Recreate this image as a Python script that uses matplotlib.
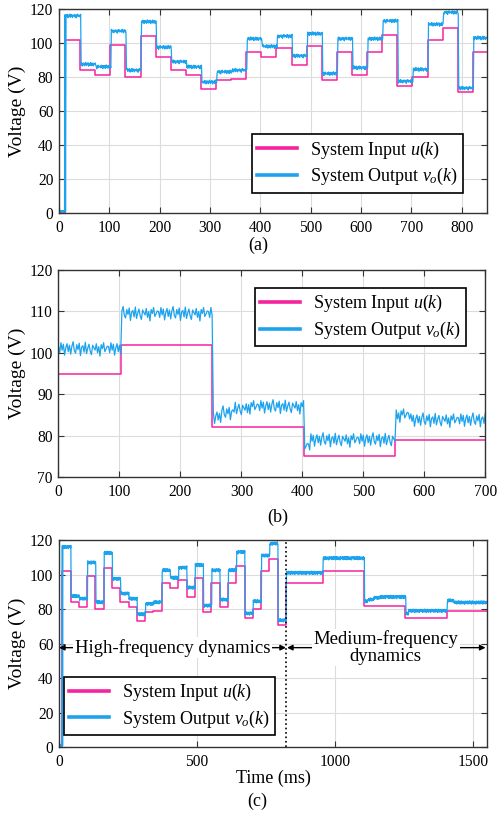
import numpy as np
import matplotlib
matplotlib.use('Agg')
from matplotlib import pyplot as plt

# high-frequency test (panel a, first part of panel c): step times and levels
HF_T = [0, 12, 42, 72, 102, 132, 162, 192, 222, 252, 282, 312, 342, 372, 402,
        432, 462, 492, 522, 552, 582, 612, 642, 672, 702, 732, 762, 792, 822]
HF_U = [0, 102, 84, 81, 99, 80, 104, 92, 84, 81, 73, 78, 79, 95, 92,
        97, 87, 98, 78, 95, 81, 95, 105, 75, 80, 102, 109, 71, 95]
HF_V = [1, 116, 87.5, 86, 107, 84, 112.5, 97.5, 89, 86, 77, 83, 84, 102.5, 98,
        104, 92.5, 105.5, 82, 102.5, 85.5, 102.5, 113, 77.5, 84.5, 111, 118, 73.5, 103]

# medium-frequency test (panel b)
MF_T = [0, 102, 252, 402, 552]
MF_U = [95, 102, 82, 75, 79]
MF_VT = [0, 102, 252, 265, 285, 310, 402, 412, 552, 575]
MF_V = [101, 109.5, 84.5, 85.5, 86.5, 87, 77.5, 79, 85, 83.8]

# panel c: medium-frequency part placed after the high-frequency part
C_SPLIT = 822
C_SHIFT = 853

# ripple on the measured output (estimated, tiled)
RIPPLE = [0.4, -0.8, 1.2, -0.3, 0.9, -1.3, 0.2, 1.0, -0.6, 0.7, -1.1, 0.5, 1.4,
          -0.4, -0.9, 0.8, -0.2, 1.1, -1.4, 0.3, 0.6, -0.7, 1.3, -1.0, 0.1, 0.9,
          -0.5, -1.2, 0.7, 0.2, -0.3, 1.0, -0.8, 0.4, -1.5, 0.8, 0.0, 1.2, -0.6,
          -0.1, 0.5]

PINK = '#F5239E'
BLUE = '#1DA3EE'

plt.rcParams['font.family'] = ['Liberation Serif', 'DejaVu Serif']
plt.rcParams['mathtext.fontset'] = 'custom'
plt.rcParams['mathtext.rm'] = 'Liberation Serif'
plt.rcParams['mathtext.it'] = 'Liberation Serif:italic'


def steps(t, tt, vv):
    idx = np.searchsorted(np.asarray(tt), t, side='right') - 1
    idx = np.clip(idx, 0, None)
    return np.asarray(vv, dtype=float)[idx]


def ripple(n, amp):
    r = np.resize(np.array(RIPPLE), n)
    return r * amp


def style(ax, xlim, ylim, xticks, yticks):
    ax.set_xlim(*xlim)
    ax.set_ylim(*ylim)
    ax.set_xticks(xticks)
    ax.set_yticks(yticks)
    ax.grid(True, color='#dcdcdc', lw=0.8)
    ax.set_axisbelow(True)
    ax.tick_params(direction='in', top=True, right=True, labelsize=11.2,
                   length=4, color='#333333', pad=4)
    ax.tick_params(axis='x', pad=5)
    for s in ax.spines.values():
        s.set_color('#333333')
        s.set_linewidth(1.0)
    ax.set_ylabel('Voltage (V)', fontsize=14)
    ax.yaxis.set_label_coords(-0.077, 0.5)


def legend(ax, loc, anchor):
    leg = ax.legend(loc=loc, bbox_to_anchor=anchor, fontsize=13, fancybox=False,
                    framealpha=1, edgecolor='black', handlelength=2.2,
                    borderpad=0.3, labelspacing=0.3, handletextpad=0.7,
                    borderaxespad=0)
    leg.get_frame().set_linewidth(1.2)
    for h in leg.get_lines():
        h.set_linewidth(2.6)


fig = plt.figure(figsize=(4.97, 8.14), dpi=100)
ax1 = fig.add_axes([0.1187, 0.7383, 0.861, 0.2506])
ax2 = fig.add_axes([0.1177, 0.414, 0.8586, 0.2543])
ax3 = fig.add_axes([0.1187, 0.0823, 0.861, 0.2543])

# (a)
t1 = np.arange(0, 851)
v1 = steps(t1 - 2, HF_T, HF_V) + ripple(len(t1), 0.8)
v1[t1 < 13] = steps(t1[t1 < 13], HF_T, HF_V) + ripple(13, 0.5)
ax1.step(HF_T + [850], HF_U + [HF_U[-1]], where='post', color=PINK, lw=1.1,
         label='System Input $u(k)$')
ax1.plot(t1, v1, color=BLUE, lw=0.9, label='System Output $v_o(k)$')
style(ax1, (0, 850), (0, 120), range(0, 801, 100), range(0, 121, 20))
legend(ax1, 'lower right', (0.944, 0.10))

# (b)
t2 = np.arange(0, 701, 2)
v2 = steps(t2 - 2, MF_VT, MF_V) + ripple(len(t2), 1.2)
ax2.step(MF_T + [700], MF_U + [MF_U[-1]], where='post', color=PINK, lw=1.1,
         label='System Input $u(k)$')
ax2.plot(t2, v2, color=BLUE, lw=0.9, label='System Output $v_o(k)$')
style(ax2, (0, 700), (70, 120), range(0, 701, 100), range(70, 121, 10))
legend(ax2, 'upper right', (0.955, 0.914))

# (c)
c_ut = HF_T[:-1] + [C_SPLIT] + [t + C_SHIFT for t in MF_T[1:]]
c_u = HF_U[:-1] + MF_U
c_vt = HF_T[:-1] + [C_SPLIT] + [t + C_SHIFT for t in MF_VT[1:]]
c_v = HF_V[:-1] + MF_V
t3 = np.arange(0, 1551)
v3 = steps(t3 - 2, c_vt, c_v) + ripple(len(t3), 0.7)
v3[t3 < 13] = steps(t3[t3 < 13], c_vt, c_v) + ripple(13, 0.5)
ax3.step(c_ut + [1550], c_u + [c_u[-1]], where='post', color=PINK,
         lw=1.1, label='System Input $u(k)$')
ax3.plot(t3, v3, color=BLUE, lw=0.9, label='System Output $v_o(k)$')
style(ax3, (0, 1550), (0, 120), [0, 500, 1000, 1500], range(0, 121, 20))
ax3.axvline(C_SPLIT + 2, color='black', ls=':', lw=1.2)
ax3.set_xlabel('Time (ms)', fontsize=13, labelpad=0)
legend(ax3, 'lower left', (0.0117, 0.058))

arrow = dict(arrowstyle='<|-|>', color='black', lw=1.0, mutation_scale=8,
             shrinkA=0, shrinkB=0)
ax3.annotate('', xy=(0, 57.6), xytext=(C_SPLIT, 57.6), arrowprops=arrow)
ax3.annotate('', xy=(C_SPLIT + 4, 57.6), xytext=(1545, 57.6), arrowprops=arrow)
ax3.text(411, 57.6, 'High-frequency dynamics', fontsize=13.5, ha='center',
         va='center', bbox=dict(facecolor='white', edgecolor='none', pad=1))
ax3.text(1184, 57.8, 'Medium-frequency\ndynamics', fontsize=13.5, ha='center',
         va='center', linespacing=1.0,
         bbox=dict(facecolor='white', edgecolor='none', pad=1))

fig.text(0.52, 0.6985, '(a)', fontsize=13, ha='center', va='center')
fig.text(0.558, 0.365, '(b)', fontsize=13, ha='center', va='center')
fig.text(0.517, 0.015, '(c)', fontsize=13, ha='center', va='center')

fig.savefig('out.png', dpi=100)
